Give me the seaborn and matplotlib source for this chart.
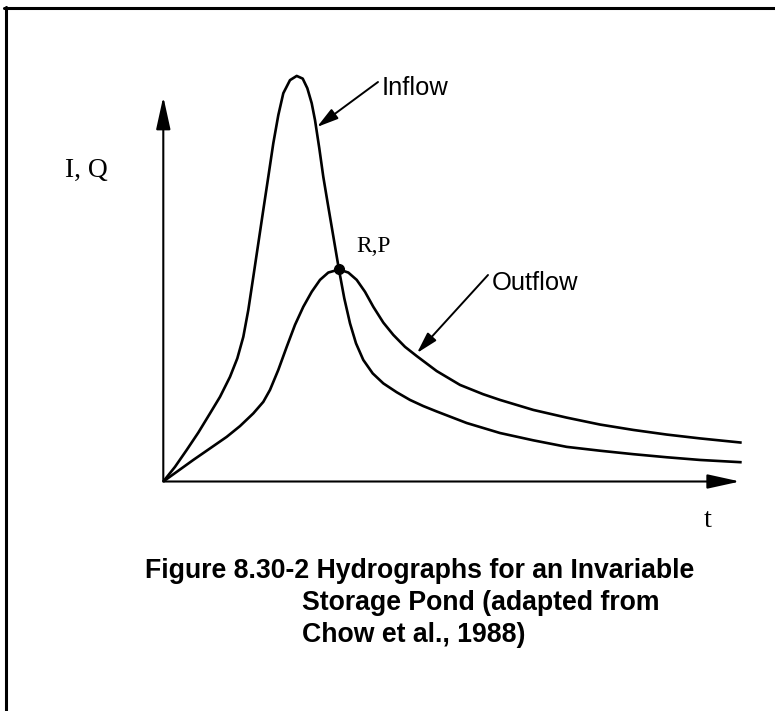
import numpy as np
import pandas as pd
import matplotlib
matplotlib.use("Agg")
import matplotlib.pyplot as plt
from matplotlib.lines import Line2D
import seaborn as sns

# ---- data (time t, flow) ----
inflow_t = [0.0, 0.243, 0.487, 0.728, 0.972, 1.180, 1.388, 1.540, 1.665, 1.769, 1.873,
            1.977, 2.081, 2.185, 2.289, 2.393, 2.497, 2.636, 2.776, 2.901, 2.997, 3.088,
            3.157, 3.246, 3.329, 3.421, 3.504, 3.656, 3.766, 3.885, 4.010, 4.161, 4.357,
            4.578, 4.856, 5.133, 5.410, 5.689, 6.313, 7.006, 7.699, 8.394, 9.087, 9.780,
            10.474, 11.167, 12.035]
inflow_q = [0.0, 0.38, 0.82, 1.27, 1.77, 2.20, 2.72, 3.20, 3.76, 4.46, 5.32,
            6.19, 7.06, 7.92, 8.79, 9.52, 10.09, 10.43, 10.54, 10.47, 10.22, 9.83,
            9.39, 8.66, 7.92, 7.23, 6.62, 5.50, 4.76, 4.11, 3.59, 3.16, 2.81,
            2.55, 2.32, 2.12, 1.96, 1.82, 1.52, 1.26, 1.07, 0.90, 0.80, 0.71,
            0.63, 0.56, 0.50]
outflow_t = [0.0, 0.312, 0.624, 0.972, 1.319, 1.596, 1.873, 2.081, 2.220, 2.393, 2.568,
             2.740, 2.913, 3.088, 3.261, 3.433, 3.656, 3.850, 4.024, 4.197, 4.370, 4.578,
             4.786, 5.029, 5.273, 5.689, 6.174, 6.652, 7.006, 7.699, 8.394, 9.087, 9.780,
             10.474, 11.167, 12.035]
outflow_q = [0.0, 0.28, 0.56, 0.86, 1.16, 1.44, 1.77, 2.07, 2.38, 2.90, 3.50,
             4.07, 4.54, 4.93, 5.24, 5.43, 5.51, 5.43, 5.24, 4.93, 4.54, 4.13,
             3.81, 3.50, 3.26, 2.87, 2.51, 2.27, 2.12, 1.86, 1.66, 1.48, 1.34,
             1.22, 1.12, 1.01]
series_names = ["Inflow", "Outflow"]
point_rp = (3.656, 5.51)
y_label = "I, Q"
x_label = "t"
point_label = "R,P"
caption_lines = ["Figure 8.30-2 Hydrographs for an Invariable",
                 "Storage Pond (adapted from",
                 "Chow et al., 1988)"]

df = pd.concat([
    pd.DataFrame({"t": inflow_t, "q": inflow_q, "series": series_names[0]}),
    pd.DataFrame({"t": outflow_t, "q": outflow_q, "series": series_names[1]}),
], ignore_index=True)

sns.set_style("white")
W, H = 775, 711
fig = plt.figure(figsize=(W / 100, H / 100), dpi=100)

def fx(px):
    return px / W

def fy(py):
    return 1 - py / H

ox, oy = 163.3, 481.5
ax = fig.add_axes([fx(ox), fy(oy), fx(740 - ox), (oy - 96.7) / H])
for name in series_names:
    sub = df[df["series"] == name]
    sns.lineplot(data=sub, x="t", y="q", sort=False, estimator=None, color="black",
                 linewidth=1.9, ax=ax, clip_on=False, solid_joinstyle="round",
                 solid_capstyle="butt")
ax.set_xlim(0, 12)
ax.set_ylim(0, 10)
for s in ax.spines.values():
    s.set_visible(False)
ax.set_xticks([])
ax.set_yticks([])
ax.set_xlabel("")
ax.set_ylabel("")
ax.patch.set_alpha(0)

# axes arrows
axis_arrow = dict(arrowstyle="-|>,head_length=1.0,head_width=0.22", color="black", lw=1.5,
                  shrinkA=0, shrinkB=0, mutation_scale=20)
ax.annotate("", xy=(1, 0), xytext=(0, 0), xycoords="axes fraction", textcoords="axes fraction",
            arrowprops=axis_arrow, annotation_clip=False)
ax.annotate("", xy=(0, 1), xytext=(0, 0), xycoords="axes fraction", textcoords="axes fraction",
            arrowprops=axis_arrow, annotation_clip=False)

# intersection point
ax.plot([point_rp[0]], [point_rp[1]], "o", color="black", markersize=7, clip_on=False, zorder=5)

# callout arrows
call_arrow = dict(arrowstyle="-|>,head_length=0.65,head_width=0.18", color="black", lw=1.4,
                  shrinkA=0, shrinkB=0, mutation_scale=20)

def data_of(px, py):
    return ((px - ox) / ((740 - ox) / 12), (oy - py) / ((oy - 96.7) / 10))

ax.annotate("", xy=data_of(317, 127), xytext=data_of(378, 82), arrowprops=call_arrow,
            annotation_clip=False)
ax.annotate("", xy=data_of(417, 353), xytext=data_of(488, 275), arrowprops=call_arrow,
            annotation_clip=False)

sans = ["Liberation Sans", "DejaVu Sans"]
serif = ["Liberation Serif", "DejaVu Serif"]
kw = dict(color="black", va="baseline")
fig.text(fx(381.7), fy(95), series_names[0], fontsize=18.4, family=sans, ha="left", **kw)
fig.text(fx(491.7), fy(290), series_names[1], fontsize=18.4, family=sans, ha="left", **kw)
fig.text(fx(65), fy(176.7), y_label, fontsize=19.8, family=serif, ha="left", **kw)
fig.text(fx(356), fy(251.7), point_label, fontsize=16.8, family=serif, ha="left", **kw)
fig.text(fx(708), fy(526.7), x_label, fontsize=20.5, family=serif, ha="center", **kw)

fig.text(fx(145), fy(577.7), caption_lines[0], fontsize=19.2, family=sans, weight="bold",
         ha="left", **kw)
fig.text(fx(302), fy(610), caption_lines[1], fontsize=19.2, family=sans, weight="bold",
         ha="left", **kw)
fig.text(fx(302), fy(641.7), caption_lines[2], fontsize=19.2, family=sans, weight="bold",
         ha="left", **kw)

# page frame (left and top edges)
fig.add_artist(Line2D([fx(5.5), fx(5.5)], [fy(711), fy(6.7)], color="black", lw=2.2,
                      transform=fig.transFigure))
fig.add_artist(Line2D([fx(4), fx(775)], [fy(8.2), fy(8.2)], color="black", lw=2.2,
                      transform=fig.transFigure))

fig.savefig("out.png", dpi=100, facecolor="white")
